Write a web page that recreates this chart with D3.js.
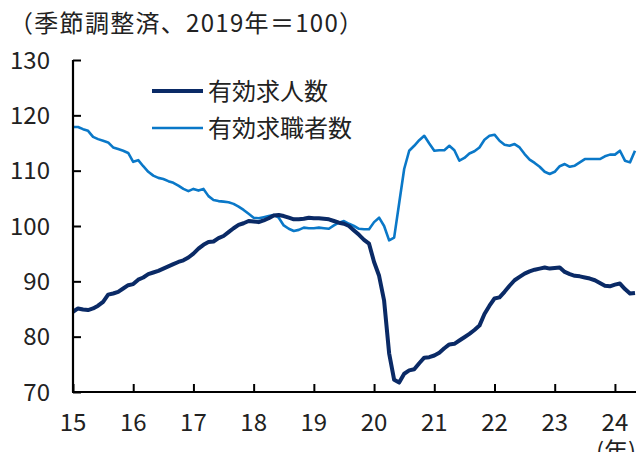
<!DOCTYPE html>
<html>
<head>
<meta charset="utf-8">
<script src="https://cdn.jsdelivr.net/npm/d3@7"></script>
<style>
  body { margin: 0; background: #fff; }
  svg text { font-family: "Noto Sans CJK JP", "Noto Sans", sans-serif; fill: #222; }
</style>
</head>
<body>
<div id="plot1"></div>
<script>
// monthly, Jan 2015 - May 2024 (2019 = 100)
const startYear = 2015;
const yearTicks = [2015, 2016, 2017, 2018, 2019, 2020, 2021, 2022, 2023, 2024];
const yTicks = [70, 80, 90, 100, 110, 120, 130];

const offers = [ // 有効求人数
  84.5, 85.1, 84.9, 84.8, 85.1, 85.6, 86.3, 87.6, 87.8, 88.1, 88.7, 89.3,
  89.5, 90.3, 90.7, 91.3, 91.6, 91.9, 92.3, 92.7, 93.1, 93.5, 93.8, 94.3,
  95.0, 95.9, 96.6, 97.1, 97.2, 97.8, 98.2, 98.9, 99.6, 100.2, 100.5, 100.9,
  100.8, 100.7, 101.0, 101.4, 101.9, 102.0, 101.8, 101.5, 101.2, 101.2, 101.3, 101.5,
  101.4, 101.4, 101.3, 101.2, 100.9, 100.6, 100.4, 100.0, 99.2, 98.4, 97.5, 96.8,
  93.5, 91.0, 86.5, 77.0, 72.2, 71.7, 73.3, 73.9, 74.1, 75.2, 76.2, 76.3,
  76.6, 77.1, 77.9, 78.6, 78.7, 79.3, 79.9, 80.5, 81.2, 82.0, 84.1, 85.6,
  86.9, 87.1, 88.1, 89.2, 90.2, 90.8, 91.4, 91.8, 92.1, 92.3, 92.5, 92.3,
  92.4, 92.5, 91.7, 91.3, 91.0, 90.9, 90.7, 90.5, 90.2, 89.7, 89.2, 89.1,
  89.4, 89.6, 88.6, 87.8, 87.9
];

const seekers = [ // 有効求職者数
  117.9, 117.9, 117.5, 117.2, 116.1, 115.7, 115.4, 115.1, 114.2, 113.9, 113.6, 113.2,
  111.6, 111.9, 110.8, 109.8, 109.1, 108.7, 108.5, 108.1, 107.8, 107.3, 106.7, 106.3,
  106.7, 106.4, 106.7, 105.4, 104.7, 104.5, 104.4, 104.3, 104.0, 103.5, 102.9, 102.2,
  101.5, 101.4, 101.6, 101.8, 102.0, 101.5, 100.1, 99.5, 99.1, 99.3, 99.7, 99.6,
  99.6, 99.7, 99.6, 99.5, 100.1, 100.6, 100.9, 100.4, 100.0, 99.5, 99.4, 99.4,
  100.7, 101.5, 100.0, 97.4, 97.9, 104.1, 110.3, 113.6, 114.5, 115.5, 116.3, 114.9,
  113.6, 113.7, 113.7, 114.5, 113.7, 111.8, 112.3, 113.1, 113.5, 114.2, 115.6, 116.3,
  116.5, 115.4, 114.7, 114.5, 114.8, 114.2, 113.0, 112.0, 111.4, 110.7, 109.8, 109.4,
  109.8, 110.8, 111.2, 110.7, 110.9, 111.5, 112.1, 112.1, 112.1, 112.1, 112.6, 112.9,
  112.9, 113.6, 111.8, 111.5, 113.6
];

const seriesNames = ['有効求人数', '有効求職者数'];
const colors = ['#0a2a66', '#0a78c8'];
const widths = [4, 2.6];

const width = 640;
const height = 452;
const margin = {top: 60, bottom: 60, left: 73, right: 5};
const fontSize = 24;

const svg = d3.select('#plot1')
  .append('svg')
  .attr('width', width)
  .attr('height', height)
  .attr('viewBox', [0, 0, width, height]);

const x = d3.scaleLinear()
  .domain([startYear, startYear + 112 / 12])
  .range([margin.left, 635]);

const y = d3.scaleLinear()
  .domain([70, 130])
  .range([392, margin.top]);

const line = d3.line()
  .x((d, i) => x(startYear + i / 12))
  .y(d => y(d));

// lines: seekers under offers
[seekers, offers].forEach((s, k) => {
  const idx = k === 0 ? 1 : 0;
  svg.append('path')
    .datum(s)
    .attr('fill', 'none')
    .attr('stroke', colors[idx])
    .attr('stroke-width', widths[idx])
    .attr('stroke-linejoin', 'round')
    .attr('d', line);
});

// axes
function yAxis(g) {
  g.attr('transform', `translate(${margin.left},0)`)
    .call(d3.axisRight(y).tickValues(yTicks).tickSize(8).tickFormat(''))
    .call(g => g.select('.domain').remove());
  g.selectAll('line').attr('stroke', '#000').attr('stroke-width', 2);
}

function xAxis(g) {
  g.attr('transform', `translate(0,392)`)
    .call(d3.axisTop(x).tickValues(yearTicks).tickSize(8).tickFormat(''))
    .call(g => g.select('.domain').remove());
  g.selectAll('line').attr('stroke', '#000').attr('stroke-width', 2);
}

svg.append('g').call(yAxis);
svg.append('g').call(xAxis);

svg.append('line')
  .attr('x1', margin.left).attr('x2', margin.left)
  .attr('y1', y(130)).attr('y2', 392)
  .attr('stroke', '#000').attr('stroke-width', 2.2);
svg.append('line')
  .attr('x1', margin.left - 1).attr('x2', 636)
  .attr('y1', 392).attr('y2', 392)
  .attr('stroke', '#000').attr('stroke-width', 2.2);

// tick labels
svg.append('g')
  .selectAll('text')
  .data(yTicks)
  .join('text')
  .attr('x', 50)
  .attr('y', d => y(d))
  .attr('dy', '0.36em')
  .attr('text-anchor', 'end')
  .attr('font-size', fontSize)
  .text(d => d);

svg.append('g')
  .selectAll('text')
  .data(yearTicks)
  .join('text')
  .attr('x', d => x(d))
  .attr('y', 431)
  .attr('text-anchor', 'middle')
  .attr('font-size', fontSize)
  .text(d => String(d).slice(2));

svg.append('text')
  .attr('x', 596)
  .attr('y', 460)
  .attr('font-size', fontSize)
  .text('(年)');

svg.append('text')
  .attr('x', 9)
  .attr('y', 32)
  .attr('font-size', fontSize)
  .attr('letter-spacing', 1.3)
  .text('（季節調整済、2019年＝100）');

// legend
const legend = svg.append('g');
seriesNames.forEach((name, i) => {
  const ly = 91 + i * 37;
  legend.append('line')
    .attr('x1', 152).attr('x2', 203)
    .attr('y1', ly).attr('y2', ly)
    .attr('stroke', colors[i])
    .attr('stroke-width', widths[i]);
  legend.append('text')
    .attr('x', 208)
    .attr('y', ly)
    .attr('dy', '0.36em')
    .attr('font-size', fontSize)
    .text(name);
});
</script>
</body>
</html>
